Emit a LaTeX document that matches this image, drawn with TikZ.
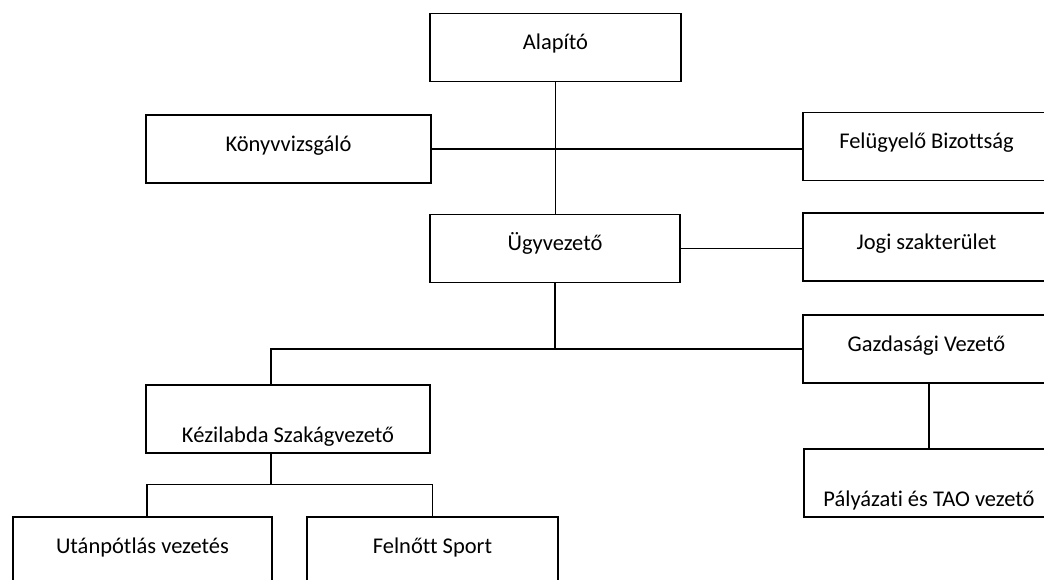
\documentclass[tikz,border=0pt]{standalone}
\usepackage{fontspec}
\setmainfont{Carlito}[Ligatures=NoCommon]
\usepackage{tikz}
\usetikzlibrary{calc}
\tikzstyle{box}=[rectangle,draw=black,line width=0.8pt,minimum height=1.36cm,inner sep=0pt,text height=0.62em,text depth=0.34em,font=\fontsize{12.8}{15}\selectfont]
\tikzstyle{low box} = [box, text height=1.1cm, text depth=0.14cm]
\tikzstyle{edge} = [draw,line width=0.8pt,-]
\tikzstyle{trunk} = [draw,line width=1.4pt,-]

\begin{document}
\begin{tikzpicture}[x=0.02cm,y=-0.02cm]
    \useasboundingbox (0,0) rectangle (1044,580);
    \clip (0,0) rectangle (1044,580);
    % First we draw the boxes
    \foreach \pos/\name/\w/\txt in {{(555.5,47.5)/alap/5.02cm/Alapító}, {(288.5,149)/konyv/5.7cm/Könyvvizsgáló}, {(926.5,146.5)/felugy/4.94cm/Felügyelő Bizottság}, {(555,248.5)/ugyv/5cm/Ügyvezető}, {(926.5,247)/jogi/4.94cm/Jogi szakterület}, {(926.5,349)/gazd/4.94cm/Gazdasági Vezető}, {(142.5,551)/utan/5.18cm/Utánpótlás vezetés}, {(432.5,551)/felno/5.02cm/Felnőtt Sport}}
        \node[box,minimum width=\w] (\name) at \pos {\txt};

    % these two have their text near the bottom
    \foreach \pos/\name/\w/\txt in {{(288,419)/kezi/5.68cm/Kézilabda Szakágvezető}, {(929,483)/palya/5cm/Pályázati és TAO vezető}}
        \node[low box,minimum width=\w] (\name) at \pos {\txt};

    % Connect boxes with lines
    \path[edge] (alap.south) -- (alap.south |- ugyv.north);
    \foreach \source/\dest in {konyv.east/felugy.west, ugyv.east/jogi.west}
        \path[edge] (\source) -- (\source -| \dest);
    \path[trunk] (ugyv.south) -- (ugyv.south |- gazd.west);
    \path[edge] (gazd.west) -| ([xshift=-0.34cm]kezi.north);
    \path[trunk] (palya.north) -- (palya.north |- gazd.south);
    \path[trunk] ([xshift=-0.34cm]kezi.south) -- ++(0,31) coordinate (kezibus);
    \path[edge] ([xshift=0.09cm]utan.north) |- (kezibus) -| (felno.north);
\end{tikzpicture}
\end{document}
